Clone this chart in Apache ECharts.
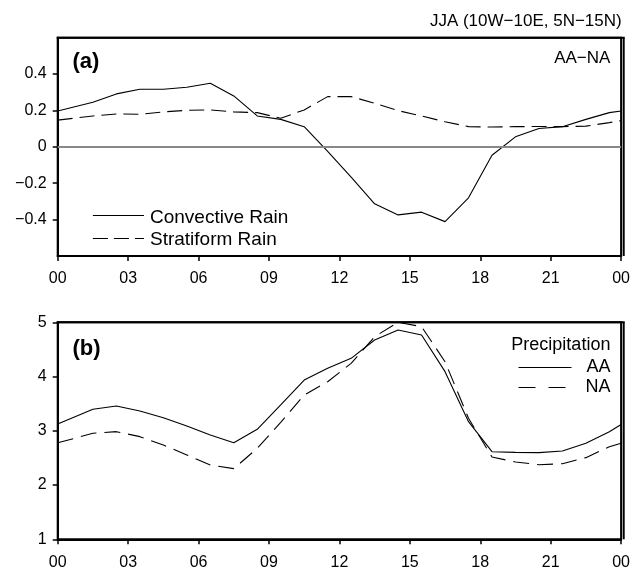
<!DOCTYPE html>
<html>
<head>
<meta charset="utf-8">
<script src="https://cdn.jsdelivr.net/npm/echarts@6/dist/echarts.min.js"></script>
<style>
html,body{margin:0;padding:0;background:#fff;}
#c{width:633px;height:571px;}
</style>
</head>
<body>
<div id="c"></div>
<script>
// Hours (LST) of each plotted vertex
var hours = [0, 1.5, 2.5, 3.5, 4.5, 5.5, 6.5, 7.5, 8.5, 9.5, 10.5, 11.5, 12.5, 13.5, 14.5, 15.5, 16.5, 17.5, 18.5, 19.5, 20.5, 21.5, 22.5, 23.5, 24];
// Panel (a): AA-NA differences
var convective = [0.197, 0.245, 0.291, 0.317, 0.317, 0.328, 0.350, 0.280, 0.170, 0.151, 0.111, -0.025, -0.167, -0.313, -0.374, -0.359, -0.411, -0.280, -0.046, 0.055, 0.101, 0.111, 0.151, 0.188, 0.197];
var stratiform = [0.147, 0.170, 0.181, 0.179, 0.192, 0.201, 0.203, 0.192, 0.188, 0.157, 0.203, 0.276, 0.276, 0.240, 0.199, 0.170, 0.138, 0.111, 0.109, 0.111, 0.112, 0.111, 0.114, 0.133, 0.144];
// Panel (b): precipitation
var precipAA = [3.125, 3.396, 3.457, 3.365, 3.242, 3.088, 2.922, 2.781, 3.028, 3.476, 3.936, 4.152, 4.336, 4.674, 4.858, 4.766, 4.090, 3.168, 2.615, 2.603, 2.597, 2.628, 2.770, 2.983, 3.115];
var precipNA = [2.778, 2.954, 2.984, 2.892, 2.738, 2.554, 2.370, 2.302, 2.677, 3.156, 3.660, 3.905, 4.244, 4.735, 5.000, 4.920, 4.274, 3.230, 2.517, 2.425, 2.375, 2.394, 2.505, 2.707, 2.770];
// Tick labels
var yLabelsA = ['\u22120.4', '\u22120.2', '0', '0.2', '0.4'];
var yLabelsB = ['1', '2', '3', '4', '5'];
var xLabels = ['00', '03', '06', '09', '12', '15', '18', '21', '00'];
var titleText = 'JJA (10W\u221210E, 5N\u221215N)';

function pairs(xs, ys){ return xs.map(function(x,i){ return [x, ys[i]]; }); }
var FONT = '"Liberation Sans", Arial, sans-serif';

// panel layout (pixels)
var GA = {left:57.7, top:37.7, width:566, height:218.3};
var GB = {left:57.7, top:322.3, width:566, height:217};

function xAxisFor(gi){
  return {
    type:'value', gridIndex:gi, min:0, max:24, interval:3,
    axisLine:{show:true, onZero:false, lineStyle:{color:'#000', width:2}},
    axisTick:{show:true, length:5, inside:false, lineStyle:{color:'#000', width:1.5}},
    axisLabel:{show:true, margin:15, color:'#000', fontSize:16, fontFamily:FONT,
      formatter:function(v){ return xLabels[Math.round(v/3)]; }},
    splitLine:{show:false}
  };
}
// top and right edges of a panel frame (left/bottom come from the axes)
function frameLines(g){
  var r = g.left + g.width, b = g.top + g.height;
  return [
    {type:'line', shape:{x1:g.left - 1, y1:g.top, x2:r + 1, y2:g.top}, style:{stroke:'#000', lineWidth:2}},
    {type:'line', shape:{x1:r, y1:g.top, x2:r, y2:b}, style:{stroke:'#000', lineWidth:2}}
  ];
}

var chart = echarts.init(document.getElementById('c'));
var option = {
  animation:false,
  grid:[
    {left:GA.left, top:GA.top, width:GA.width, height:GA.height, show:true, borderColor:'#000', borderWidth:2},
    {left:GB.left, top:GB.top, width:GB.width, height:GB.height, show:true, borderColor:'#000', borderWidth:2}
  ],
  xAxis:[xAxisFor(0), xAxisFor(1)],
  yAxis:[
    {type:'value', gridIndex:0, min:-0.6, max:0.6, interval:0.2,
      axisLine:{show:true, onZero:false, lineStyle:{color:'#000', width:2}},
      axisTick:{show:true, length:5, lineStyle:{color:'#000', width:1.5}},
      axisLabel:{margin:11, color:'#000', fontSize:16, fontFamily:FONT, showMinLabel:false, showMaxLabel:false,
        formatter:function(v){ var i = Math.round((v + 0.4) / 0.2); return (i >= 0 && i < yLabelsA.length) ? yLabelsA[i] : ''; }},
      splitLine:{show:false}},
    {type:'value', gridIndex:1, min:1, max:5, interval:1,
      axisLine:{show:true, onZero:false, lineStyle:{color:'#000', width:2}},
      axisTick:{show:true, length:5, lineStyle:{color:'#000', width:1.5}},
      axisLabel:{margin:11, color:'#000', fontSize:16, fontFamily:FONT,
        formatter:function(v){ return yLabelsB[Math.round(v) - 1]; }},
      splitLine:{show:false}}
  ],
  series:[
    {name:'Convective Rain', type:'line', xAxisIndex:0, yAxisIndex:0, data:pairs(hours, convective),
      showSymbol:false, symbol:'none', lineStyle:{color:'#000', width:1.1, type:'solid'},
      markLine:{silent:true, symbol:['none','none'], label:{show:false},
        lineStyle:{color:'#888', width:1.8, type:'solid'}, data:[{yAxis:0}]}, z:3},
    {name:'Stratiform Rain', type:'line', xAxisIndex:0, yAxisIndex:0, data:pairs(hours, stratiform),
      showSymbol:false, symbol:'none', lineStyle:{color:'#000', width:1.1, type:[15,7]}, z:3},
    {name:'AA', type:'line', xAxisIndex:1, yAxisIndex:1, data:pairs(hours, precipAA),
      showSymbol:false, symbol:'none', lineStyle:{color:'#000', width:1.1, type:'solid'}, z:3},
    {name:'NA', type:'line', xAxisIndex:1, yAxisIndex:1, data:pairs(hours, precipNA), clip:false,
      showSymbol:false, symbol:'none', lineStyle:{color:'#000', width:1.1, type:[16,8]}, z:3}
  ],
  graphic:[].concat(frameLines(GA), frameLines(GB), [
    {type:'text', x:621.7, y:21.7, style:{text:titleText, font:'17px '+FONT, fill:'#000', align:'right', verticalAlign:'middle'}},
    {type:'text', x:72.5, y:62, style:{text:'(a)', font:'bold 22px '+FONT, fill:'#000', align:'left', verticalAlign:'middle'}},
    {type:'text', x:610.4, y:58.3, style:{text:'AA\u2212NA', font:'17px '+FONT, fill:'#000', align:'right', verticalAlign:'middle'}},
    {type:'line', shape:{x1:92.9, y1:215.5, x2:144, y2:215.5}, style:{stroke:'#000', lineWidth:1.1}},
    {type:'text', x:150, y:217.3, style:{text:'Convective Rain', font:'19px '+FONT, fill:'#000', align:'left', verticalAlign:'middle'}},
    {type:'line', shape:{x1:92.9, y1:238.5, x2:144, y2:238.5}, style:{stroke:'#000', lineWidth:1.1, lineDash:[15,6]}},
    {type:'text', x:150, y:239.5, style:{text:'Stratiform Rain', font:'19px '+FONT, fill:'#000', align:'left', verticalAlign:'middle'}},
    {type:'text', x:72.5, y:348.5, style:{text:'(b)', font:'bold 22px '+FONT, fill:'#000', align:'left', verticalAlign:'middle'}},
    {type:'text', x:610.4, y:345.5, style:{text:'Precipitation', font:'18px '+FONT, fill:'#000', align:'right', verticalAlign:'middle'}},
    {type:'line', shape:{x1:518.5, y1:367.5, x2:571.5, y2:367.5}, style:{stroke:'#000', lineWidth:1.1}},
    {type:'text', x:610.4, y:367, style:{text:'AA', font:'18px '+FONT, fill:'#000', align:'right', verticalAlign:'middle'}},
    {type:'line', shape:{x1:518.5, y1:387.5, x2:571.5, y2:387.5}, style:{stroke:'#000', lineWidth:1.1, lineDash:[17,13]}},
    {type:'text', x:610.4, y:387.5, style:{text:'NA', font:'18px '+FONT, fill:'#000', align:'right', verticalAlign:'middle'}}
  ])
};
chart.setOption(option);
</script>
</body>
</html>
